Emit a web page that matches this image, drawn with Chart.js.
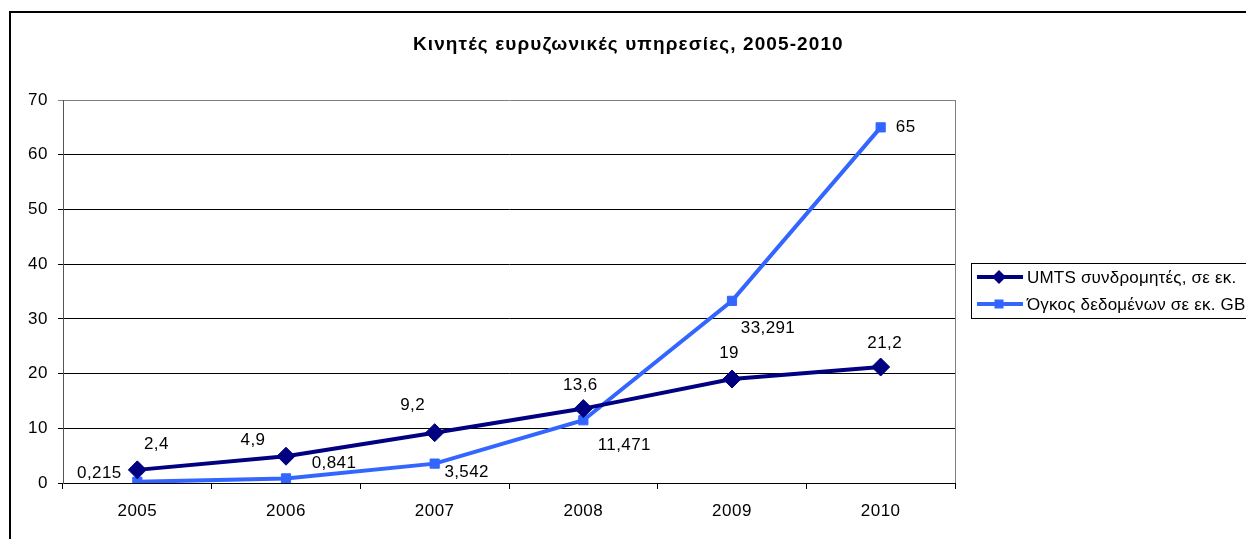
<!DOCTYPE html>
<html>
<head>
<meta charset="utf-8">
<script src="https://cdn.jsdelivr.net/npm/chart.js@4/dist/chart.umd.min.js"></script>
<style>
html,body{margin:0;padding:0;background:#fff;}
canvas{display:block;}
</style>
</head>
<body>
<canvas id="c" width="1246" height="539"></canvas>
<script>
const years = ['2005','2006','2007','2008','2009','2010'];
const umtsSubscribers = [2.4, 4.9, 9.2, 13.6, 19, 21.2];
const dataVolume = [0.215, 0.841, 3.542, 11.471, 33.291, 65];
const seriesNames = ['UMTS συνδρομητές, σε εκ.', 'Όγκος δεδομένων σε εκ. GB'];
const chartTitle = 'Κινητές ευρυζωνικές υπηρεσίες, 2005-2010';
const yMin = 0, yMax = 70, yStep = 10;

// label placement offsets (styling only)
const labelOffsets = [
  [[19,-26],[-33,-16],[-22,-27],[-3,-23],[-3,-26],[4,-24]],
  [[-38,-9],[48,-15],[32,9],[41,25],[36,27],[25,0]]
];

const FONT = "'Liberation Sans', Arial, sans-serif";
const fmt = v => String(v).replace('.', ',');

const decorPlugin = {
  id: 'decor',
  beforeDraw(chart) {
    const ctx = chart.ctx;
    ctx.save();
    ctx.fillStyle = '#fff';
    ctx.fillRect(0, 0, chart.width, chart.height);
    ctx.restore();
    ctx.letterSpacing = '0.5px';
  },
  afterDraw(chart) {
    const ctx = chart.ctx;
    const a = chart.chartArea;
    ctx.save();
    // outer frame
    ctx.strokeStyle = '#000';
    ctx.lineWidth = 2;
    ctx.beginPath();
    ctx.moveTo(10, chart.height + 5);
    ctx.lineTo(10, 12);
    ctx.lineTo(chart.width + 5, 12);
    ctx.stroke();
    // plot right border
    ctx.strokeStyle = '#808080';
    ctx.lineWidth = 1;
    ctx.beginPath();
    ctx.moveTo(Math.round(a.right) + 0.5, a.top);
    ctx.lineTo(Math.round(a.right) + 0.5, a.bottom);
    ctx.stroke();
    // title
    ctx.fillStyle = '#000';
    ctx.font = 'bold 19px ' + FONT;
    ctx.letterSpacing = '1.1px';
    ctx.textAlign = 'left';
    ctx.textBaseline = 'middle';
    ctx.fillText(chartTitle, 413, 45);
    // legend
    const lx = 971, ly = 263, lh = 55;
    ctx.strokeStyle = '#000';
    ctx.lineWidth = 1;
    ctx.strokeRect(lx + 0.5, ly + 0.5, chart.width - lx + 5, lh);
    chart.data.datasets.forEach((ds, i) => {
      const y = ly + 14 + i * 27;
      ctx.strokeStyle = ds.borderColor;
      ctx.lineWidth = ds.borderWidth;
      ctx.beginPath();
      ctx.moveTo(977, y);
      ctx.lineTo(1023, y);
      ctx.stroke();
      ctx.fillStyle = ds.pointBackgroundColor;
      ctx.beginPath();
      if (ds.pointStyle === 'rectRot') {
        const r = 7;
        ctx.moveTo(999 - r, y); ctx.lineTo(999, y - r); ctx.lineTo(999 + r, y); ctx.lineTo(999, y + r);
        ctx.closePath();
      } else {
        ctx.rect(999 - 4.5, y - 4.5, 9, 9);
      }
      ctx.fill();
      ctx.fillStyle = '#000';
      ctx.font = '17px ' + FONT;
      ctx.letterSpacing = '0.2px';
      ctx.textAlign = 'left';
      ctx.textBaseline = 'middle';
      ctx.fillText(ds.label, 1027, y + 1);
    });
    ctx.restore();
  },
  afterDatasetsDraw(chart) {
    const ctx = chart.ctx;
    ctx.save();
    ctx.fillStyle = '#000';
    ctx.font = '17px ' + FONT;
    ctx.letterSpacing = '0.4px';
    ctx.textAlign = 'center';
    ctx.textBaseline = 'middle';
    chart.data.datasets.forEach((ds, i) => {
      const meta = chart.getDatasetMeta(i);
      meta.data.forEach((pt, j) => {
        const off = labelOffsets[i][j];
        ctx.fillText(fmt(ds.data[j]), pt.x + off[0], pt.y + off[1]);
      });
    });
    ctx.restore();
  }
};

new Chart(document.getElementById('c'), {
  type: 'line',
  data: {
    labels: years,
    datasets: [
      {
        label: seriesNames[0],
        data: umtsSubscribers,
        borderColor: '#000080',
        backgroundColor: '#000080',
        pointBackgroundColor: '#000080',
        pointBorderColor: '#000080',
        borderWidth: 4,
        pointStyle: 'rectRot',
        pointRadius: 9,
        pointHoverRadius: 9,
        pointBorderWidth: 1,
        tension: 0
      },
      {
        label: seriesNames[1],
        data: dataVolume,
        borderColor: '#3366FF',
        backgroundColor: '#3366FF',
        pointBackgroundColor: '#3366FF',
        pointBorderColor: '#3366FF',
        borderWidth: 4,
        pointStyle: 'rect',
        pointRadius: 6.5,
        pointHoverRadius: 6.5,
        pointBorderWidth: 1,
        tension: 0
      }
    ]
  },
  options: {
    responsive: false,
    animation: false,
    devicePixelRatio: 1,
    layout: { padding: { left: 10, right: 291, top: 100, bottom: 0 } },
    plugins: {
      legend: { display: false },
      title: { display: false },
      tooltip: { enabled: false }
    },
    scales: {
      x: {
        type: 'category',
        offset: true,
        grid: {
          offset: true,
          drawOnChartArea: false,
          drawTicks: true,
          tickLength: 6,
          color: '#000'
        },
        border: { display: true, color: '#000', width: 1 },
        ticks: { color: '#000', font: { family: FONT, size: 17 }, padding: 12, maxRotation: 0 },
        afterFit(scale) { scale.height = 56; }
      },
      y: {
        min: yMin,
        max: yMax,
        ticks: { stepSize: yStep, color: '#000', font: { family: FONT, size: 17 }, padding: 10 },
        grid: {
          color: c => (c.tick && c.tick.value === yMax) ? '#808080' : '#000',
          tickLength: 5,
          lineWidth: 1
        },
        border: { display: true, color: '#555', width: 1 },
        afterFit(scale) { scale.width = 53; }
      }
    }
  },
  plugins: [decorPlugin]
});
</script>
</body>
</html>
